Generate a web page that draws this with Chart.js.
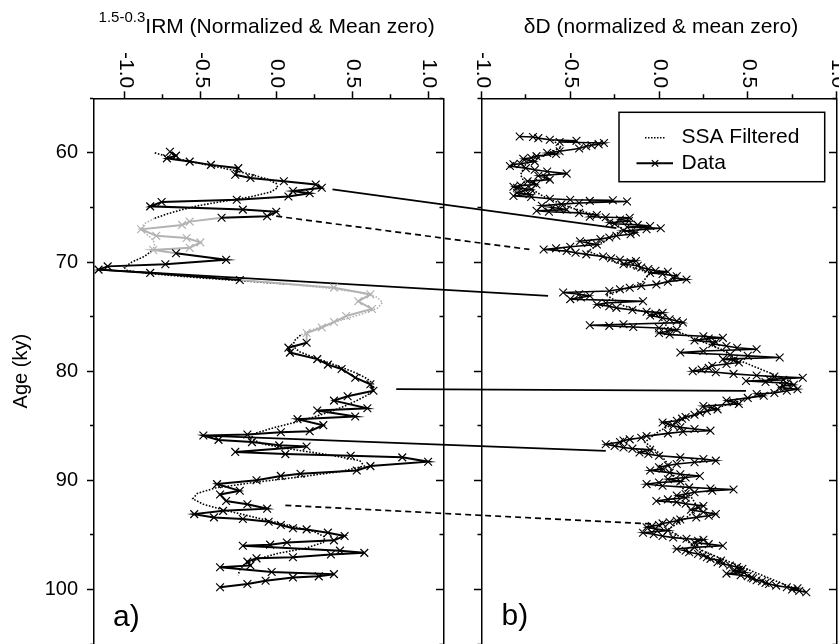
<!DOCTYPE html>
<html><head><meta charset="utf-8">
<script src="https://cdn.jsdelivr.net/npm/chart.js@4"></script>
<style>html,body{margin:0;padding:0;background:#fff;}canvas{display:block}</style>
</head><body>
<canvas id="c" width="839" height="644"></canvas>
<script>
// ---------- DATA ----------
// a) 1.5-0.3 IRM record (age in ky, normalized value)
const irmAge = [59.9,60.25,60.5,60.8,61.1,61.4,62.0,62.3,62.6,62.9,63.2,63.5,63.7,64.0,64.3,64.5,64.9,65.2,65.4,65.8,65.95,66.3,66.6,67.0,67.6,67.8,68.2,68.7,68.9,69.2,69.8,70.2,70.4,70.7,71.0,71.65,72.35,72.96,73.6,74.3,74.95,75.5,76.0,76.5,77.4,77.85,78.3,78.9,79.4,79.8,80.6,81.2,81.8,82.3,82.7,83.4,83.6,84.15,84.4,84.95,85.5,85.6,85.8,85.9,86.3,86.5,86.8,86.9,87.4,87.6,87.75,87.9,88.3,88.7,89.1,89.4,89.6,90.0,90.35,90.96,91.3,91.9,92.2,92.6,92.8,93.1,93.4,93.55,93.8,94.1,94.4,94.5,94.8,95.1,95.5,95.7,95.9,96.0,96.45,96.65,96.8,97.05,97.15,97.45,97.8,97.97,98.4,98.6,98.8,98.9,99.2,99.5,99.8];
const irmVal = [-0.70,-0.66,-0.72,-0.57,-0.43,-0.25,-0.27,-0.17,0.05,0.26,0.30,0.11,0.22,0.08,-0.26,-0.755,-0.83,-0.22,0.00,-0.06,-0.36,-0.57,-0.62,-0.89,-0.79,-0.59,-0.50,-0.57,-0.81,-0.66,-0.33,-0.73,-1.11,-1.17,-0.83,-0.24,0.38,0.62,0.54,0.63,0.46,0.38,0.30,0.20,0.20,0.08,0.09,0.27,0.34,0.43,0.52,0.62,0.64,0.47,0.38,0.60,0.27,0.52,0.14,0.31,0.22,0.03,-0.19,-0.48,-0.38,-0.16,0.02,0.20,-0.27,0.06,0.49,0.83,1.00,0.62,0.53,0.16,0.03,-0.13,-0.39,-0.24,-0.37,-0.33,-0.19,-0.06,-0.35,-0.54,-0.41,-0.22,-0.05,0.03,0.11,0.20,0.34,0.45,0.38,0.07,-0.04,-0.22,0.42,0.58,0.36,0.11,-0.13,-0.19,-0.17,-0.37,-0.03,0.38,0.28,0.11,-0.07,-0.19,-0.37];

const ssaAAge = [60.0,60.4,60.8,61.2,61.6,62.0,62.4,62.8,63.2,63.6,64.0,64.4,64.8,65.2,65.6,66.0,66.5,67.0,67.5,68.0,68.5,69.0,69.5,70.0,70.5,70.8,71.1,71.4,71.7,72.0,72.4,72.8,73.2,73.7,74.2,74.7,75.2,75.7,76.2,76.7,77.2,77.7,78.2,78.7,79.2,79.7,80.2,80.7,81.2,81.7,82.2,82.7,83.2,83.7,84.2,84.7,85.2,85.7,86.2,86.7,87.2,87.7,88.2,88.7,89.2,89.7,90.2,90.7,91.2,91.7,92.2,92.7,93.2,93.7,94.2,94.7,95.2,95.7,96.2,96.7,97.2,97.7,98.2,98.7];
const ssaAVal = [-0.80,-0.70,-0.56,-0.42,-0.28,-0.16,-0.06,0.00,0.01,-0.04,-0.16,-0.33,-0.50,-0.62,-0.72,-0.80,-0.87,-0.89,-0.85,-0.81,-0.80,-0.82,-0.87,-0.95,-1.00,-0.98,-0.80,-0.55,-0.25,0.05,0.35,0.55,0.66,0.70,0.67,0.58,0.46,0.34,0.24,0.16,0.12,0.11,0.15,0.24,0.34,0.44,0.53,0.60,0.64,0.64,0.60,0.53,0.45,0.36,0.25,0.12,-0.02,-0.14,-0.17,-0.08,0.12,0.36,0.55,0.58,0.42,0.15,-0.15,-0.40,-0.52,-0.55,-0.48,-0.35,-0.20,-0.05,0.10,0.25,0.32,0.31,0.20,0.01,-0.12,-0.21,-0.24,-0.25];

// b) deltaD record
const ddAge = [
 58.5,58.55,58.65,58.8,58.9,59.0,59.1,59.2,59.3,59.4,
 59.6,59.85,60.0,60.1,60.3,60.45,60.55,60.8,61.0,61.05,
 61.2,61.4,61.55,61.7,61.9,62.1,62.25,62.45,62.6,62.75,
 62.9,63.0,63.1,63.2,63.35,63.5,63.65,63.8,63.95,64.05,
 64.2,64.3,64.35,64.4,64.45,64.6,64.7,64.85,65.0,65.1,
 65.2,65.3,65.4,65.5,65.7,65.85,65.9,65.95,66.1,66.25,
 66.4,66.5,66.6,66.7,66.8,66.9,67.0,67.15,67.3,67.45,
 67.6,67.75,67.9,68.1,68.25,68.4,68.6,68.75,68.85,69.0,
 69.15,69.3,69.5,69.65,69.8,69.9,70.0,70.2,70.35,70.5,
 70.65,70.8,70.9,71.0,71.1,71.3,71.45,71.6,71.8,72.05,
 72.2,72.35,72.5,72.65,72.8,72.95,73.1,73.25,73.4,73.6,
 73.75,73.9,74.05,74.2,74.4,74.55,74.65,74.75,74.9,75.1,
 75.25,75.4,75.55,75.7,75.8,75.85,75.95,76.05,76.2,76.35,
 76.5,76.65,76.8,76.95,77.0,77.2,77.35,77.5,77.7,77.85,
 78.0,78.15,78.3,78.5,78.6,78.75,78.9,79.0,79.2,79.35,
 79.5,79.7,79.85,80.0,80.1,80.25,80.4,80.5,80.6,80.75,
 80.8,80.9,81.0,81.1,81.25,81.35,81.5,81.65,81.8,82.0,
 82.1,82.25,82.45,82.7,82.85,83.0,83.2,83.35,83.5,83.65,
 83.8,84.0,84.2,84.35,84.55,84.7,84.85,85.0,85.15,85.3,
 85.45,85.55,85.7,85.95,86.1,86.25,86.35,86.5,86.7,86.85,
 87.0,87.1,87.2,87.45,87.6,87.75,87.9,88.05,88.2,88.35,
 88.5,88.65,88.8,88.95,89.1,89.3,89.45,89.6,89.75,89.9,
 90.1,90.2,90.35,90.5,90.65,90.75,90.85,90.95,91.1,91.25,
 91.4,91.6,91.75,91.9,92.0,92.15,92.35,92.5,92.7,92.9,
 93.1,93.25,93.4,93.6,93.7,93.85,93.95,94.1,94.2,94.3,
 94.45,94.6,94.8,94.95,95.1,95.25,95.35,95.45,95.55,95.7,
 95.85,96.0,96.15,96.3,96.45,96.6,96.75,96.9,97.05,97.2,
 97.35,97.5,97.65,97.8,97.95,98.1,98.2,98.3,98.45,98.55,
 98.7,98.8,98.9,99.0,99.15,99.25,99.4,99.5,99.65,99.8,
 99.9,100.0,100.15,100.25];
const ddVal = [
 -0.785,-0.71,-0.68,-0.615,-0.465,-0.56,-0.31,-0.34,-0.38,-0.41,
 -0.45,-0.56,-0.63,-0.58,-0.69,-0.72,-0.765,-0.70,-0.78,-0.82,
 -0.84,-0.75,-0.70,-0.63,-0.52,-0.68,-0.64,-0.615,-0.74,-0.71,
 -0.69,-0.78,-0.82,-0.80,-0.72,-0.765,-0.80,-0.73,-0.82,-0.72,
 -0.615,-0.50,-0.26,-0.39,-0.18,-0.45,-0.55,-0.66,-0.60,-0.56,
 -0.52,-0.69,-0.62,-0.45,-0.35,-0.39,-0.30,-0.165,-0.22,-0.17,
 -0.28,-0.25,-0.12,-0.05,-0.18,0.01,-0.07,-0.20,-0.13,-0.16,
 -0.24,-0.28,-0.33,-0.445,-0.40,-0.35,-0.50,-0.58,-0.65,-0.52,
 -0.47,-0.41,-0.315,-0.27,-0.22,-0.13,-0.16,-0.20,-0.12,-0.10,
 -0.06,-0.02,0.05,-0.05,0.02,0.10,0.08,0.155,0.05,-0.015,
 -0.10,-0.165,-0.22,-0.28,-0.54,-0.45,-0.39,-0.44,-0.50,-0.09,
 -0.30,-0.35,-0.28,-0.24,-0.15,-0.07,0.02,-0.02,-0.05,0.02,
 0.06,0.10,0.135,-0.20,-0.39,-0.28,-0.145,0.00,0.10,0.05,
 0.00,0.06,0.25,0.36,0.28,0.20,0.32,0.30,0.38,0.44,
 0.55,0.25,0.12,0.40,0.50,0.68,0.36,0.42,0.45,0.38,
 0.30,0.28,0.24,0.19,0.32,0.42,0.55,0.65,0.81,0.62,
 0.70,0.49,0.60,0.72,0.76,0.70,0.68,0.78,0.72,0.65,
 0.55,0.59,0.50,0.38,0.42,0.45,0.25,0.30,0.33,0.27,
 0.23,0.20,0.15,0.13,0.10,0.02,0.05,0.08,0.12,0.20,
 0.29,0.135,0.05,-0.07,-0.10,-0.165,-0.20,-0.22,-0.30,-0.25,
 -0.20,-0.15,-0.05,-0.11,-0.06,0.00,0.12,0.25,0.32,0.20,
 0.10,0.05,0.00,0.02,-0.05,0.06,0.12,0.23,0.15,0.05,
 0.12,0.00,-0.07,0.02,0.17,0.29,0.42,0.30,0.20,0.15,
 0.10,0.15,0.05,-0.015,0.10,0.15,0.25,0.22,0.18,0.25,
 0.32,0.28,0.21,0.12,0.10,0.06,0.02,0.00,-0.04,-0.07,
 -0.02,0.05,-0.09,-0.03,0.02,0.08,0.155,0.25,0.22,0.20,
 0.28,0.36,0.20,0.10,0.15,0.17,0.22,0.25,0.27,0.29,
 0.35,0.33,0.36,0.40,0.44,0.47,0.45,0.42,0.48,0.38,
 0.46,0.50,0.52,0.53,0.55,0.58,0.60,0.62,0.66,0.72,
 0.78,0.75,0.79,0.83];

const ssaBAge = [58.8,59.5,60.2,61.0,62.0,63.0,64.0,65.0,66.0,67.0,68.0,69.0,70.0,71.0,72.0,73.0,74.0,75.0,76.0,77.0,78.0,79.0,80.0,81.0,81.6,82.5,83.5,84.5,85.5,86.5,87.5,88.5,89.5,90.5,91.5,92.5,93.5,94.5,95.5,96.5,97.5,98.5,99.5,100.2];
const ssaBVal = [-0.60,-0.55,-0.65,-0.75,-0.78,-0.75,-0.65,-0.50,-0.30,-0.20,-0.30,-0.40,-0.25,-0.05,-0.10,-0.30,-0.20,0.00,0.05,0.20,0.35,0.45,0.60,0.75,0.72,0.50,0.30,0.12,0.00,-0.08,0.00,0.05,0.08,0.12,0.18,0.22,0.15,0.05,0.15,0.25,0.40,0.55,0.70,0.82];

// tie lines between records (a -> b)
const tieAgeA = [63.35,65.8,70.7,81.65,85.9,92.3];
const tieValA = [0.37,0.0,-1.17,0.79,-0.48,0.06];
const tieAgeB = [66.9,68.85,73.1,81.8,87.3,94.0];
const tieValB = [-0.24,-0.73,-0.625,0.49,-0.30,-0.04];
const tieDashed = [false,true,false,false,false,true];

// age intervals of record a drawn in grey
const greyFrom = [66.0,72.0];
const greyTo = [69.0,77.0];

const ageTicksMajor = 10;

// ---------- STYLE ----------
const FONT = '"Liberation Sans", Arial, Helvetica, sans-serif';
const BLACK = '#000';
const GREY = '#b3b3b3';
Chart.defaults.font.family = FONT;
Chart.defaults.color = '#000';

function isGrey(age){ for(let i=0;i<greyFrom.length;i++){ if(age>=greyFrom[i]&&age<=greyTo[i]) return true; } return false; }
function isHalf(v){ return Math.abs(v*2-Math.round(v*2))<1e-6; }
function pts(ages, vals){ return ages.map((a,i)=>({x:vals[i], y:a})); }

const minorDashOut = [0,3,10,0];   // tick drawn outer->axis
const minorDashIn = [3.5,20];      // tick drawn axis->outer

function yDyn(pos){
  return { type:'linear', axis:'y', position:pos, min:55, max:105, reverse:true,
    ticks:{display:false, stepSize:5, autoSkip:false},
    grid:{drawOnChartArea:false, drawTicks:true, tickLength:7, tickWidth:1.5, tickColor:BLACK,
      tickBorderDash: c => (c.tick && c.tick.value % ageTicksMajor === 0) ? [] : minorDashIn},
    border:{display:true, color:BLACK, width:1.5},
    afterFit: s => { s.width = 0; s.paddingTop = 0; s.paddingBottom = 0; } };
}
function xTop(min,max,weightPx,order){
  return { type:'linear', axis:'x', position:'top', stack:'top', stackWeight:weightPx, weight:order, min:min, max:max,
    ticks:{display:false, stepSize:0.25, includeBounds:false, autoSkip:false, callback: v => isHalf(v) ? v.toFixed(1) : ''},
    grid:{drawOnChartArea:false, drawTicks:true, tickLength:7, tickWidth:1.5, tickColor:BLACK,
      tickBorderDash: c => (c.tick && isHalf(c.tick.value)) ? [] : minorDashOut},
    border:{display:true, color:BLACK, width:1.5},
    afterFit: s => { s.height = 7; s.paddingLeft = 0; s.paddingRight = 0; } };
}

const annot = {
  id:'annot',
  beforeDatasetsDraw(chart){
    const {ctx, scales:{xa, xb, y}} = chart;
    ctx.save();
    ctx.strokeStyle = BLACK; ctx.lineWidth = 1.7;
    for(let i=0;i<tieAgeA.length;i++){
      ctx.setLineDash(tieDashed[i] ? [6,4] : []);
      ctx.beginPath();
      ctx.moveTo(xa.getPixelForValue(tieValA[i]), y.getPixelForValue(tieAgeA[i]));
      ctx.lineTo(xb.getPixelForValue(tieValB[i]), y.getPixelForValue(tieAgeB[i]));
      ctx.stroke();
    }
    ctx.restore();
  },
  afterDraw(chart){
    const {ctx, chartArea, scales:{xa, xb}} = chart;
    ctx.save();
    ctx.fillStyle = BLACK;
    // rotated top tick labels
    ctx.font = '21px ' + FONT;
    ctx.textAlign = 'right'; ctx.textBaseline = 'middle';
    [xa, xb].forEach(s => {
      s.ticks.forEach(t => {
        if(!t.label) return;
        const px = s.getPixelForValue(t.value);
        ctx.save(); ctx.translate(px + 1, s.bottom - 10); ctx.rotate(Math.PI/2);
        ctx.fillText(t.label, 0, 0); ctx.restore();
      });
    });
    // titles
    ctx.textAlign = 'left'; ctx.textBaseline = 'alphabetic';
    const supTxt = '1.5-0.3', mainA = 'IRM (Normalized & Mean zero)';
    ctx.font = '15px ' + FONT; const wSup = ctx.measureText(supTxt).width;
    ctx.font = '21px ' + FONT; const wMain = ctx.measureText(mainA).width;
    let x0 = (xa.left + xa.right)/2 - 2 - (wSup + wMain)/2;
    ctx.font = '15px ' + FONT; ctx.fillText(supTxt, x0, 22);
    ctx.font = '21px ' + FONT; ctx.fillText(mainA, x0 + wSup, 33);
    ctx.textAlign = 'center';
    ctx.fillText('\u03B4D (normalized & mean zero)', xb.getPixelForValue(0) + 2, 33);
    // panel letters
    ctx.textAlign = 'left';
    ctx.font = '30px ' + FONT;
    ctx.fillText('a)', xa.left + 19, chartArea.bottom - 18);
    ctx.fillText('b)', xb.left + 20, chartArea.bottom - 19);
    // legend
    const lx1 = xb.right - 217.5, ly1 = chartArea.top + 14, lw = 205.7, lh = 69.4;
    ctx.fillStyle = '#fff'; ctx.fillRect(lx1, ly1, lw, lh);
    ctx.strokeStyle = BLACK; ctx.lineWidth = 1.5; ctx.strokeRect(lx1, ly1, lw, lh);
    ctx.fillStyle = BLACK;
    ctx.font = '21px ' + FONT;
    const ds = chart.data.datasets;
    ctx.fillText(ds[1].label, lx1 + 62.5, ly1 + 30.4);
    ctx.fillText(ds[0].label, lx1 + 62.5, ly1 + 56.7);
    ctx.lineWidth = 1.5; ctx.setLineDash([1.5,1.5]);
    ctx.beginPath(); ctx.moveTo(lx1 + 26, ly1 + 25.5); ctx.lineTo(lx1 + 46, ly1 + 25.5); ctx.stroke();
    ctx.setLineDash([]); ctx.lineWidth = 2;
    ctx.beginPath(); ctx.moveTo(lx1 + 17.5, ly1 + 51); ctx.lineTo(lx1 + 54, ly1 + 51); ctx.stroke();
    ctx.lineWidth = 1.2;
    const cx = lx1 + 36, cy = ly1 + 51, r = 3.2;
    ctx.beginPath(); ctx.moveTo(cx-r,cy-r); ctx.lineTo(cx+r,cy+r); ctx.moveTo(cx+r,cy-r); ctx.lineTo(cx-r,cy+r); ctx.stroke();
    ctx.restore();
  }
};

new Chart(document.getElementById('c'), {
  type:'scatter',
  data:{ datasets:[
    { label:'Data', xAxisID:'xa', yAxisID:'y', data:pts(irmAge, irmVal), showLine:true,
      borderColor:BLACK, borderWidth:2, pointStyle:'crossRot', pointRadius:5.5, pointBorderWidth:1.2,
      pointBorderColor: c => (c.parsed && isGrey(c.parsed.y)) ? GREY : BLACK,
      segment:{ borderColor: c => (isGrey(c.p0.parsed.y) || isGrey(c.p1.parsed.y)) ? GREY : BLACK } },
    { label:'SSA Filtered', xAxisID:'xa', yAxisID:'y', data:pts(ssaAAge, ssaAVal), showLine:true,
      borderColor:BLACK, borderWidth:1.6, borderDash:[1.6,1.6], pointRadius:0,
      segment:{ borderColor: c => (isGrey(c.p0.parsed.y) && isGrey(c.p1.parsed.y)) ? GREY : BLACK } },
    { label:'Data', xAxisID:'xb', yAxisID:'y', data:pts(ddAge, ddVal), showLine:true,
      borderColor:BLACK, borderWidth:1.6, pointStyle:'crossRot', pointRadius:5.5, pointBorderWidth:1.1,
      pointBorderColor:BLACK },
    { label:'SSA Filtered', xAxisID:'xb', yAxisID:'y', data:pts(ssaBAge, ssaBVal), showLine:true,
      borderColor:BLACK, borderWidth:1.6, borderDash:[1.6,1.6], pointRadius:0 }
  ]},
  options:{
    responsive:false, animation:false, devicePixelRatio:1,
    layout:{ autoPadding:false, padding:{ top:91.3, right:2.5, bottom:0, left:0 } },
    plugins:{ legend:{display:false}, title:{display:false}, tooltip:{enabled:false} },
    events:[],
    scales:{
      xa: xTop(-1.2, 1.1, 349.3, 3),
      xgap: { type:'linear', axis:'x', position:'top', stack:'top', stackWeight:38.2, weight:2, min:0, max:1,
        ticks:{display:false}, grid:{display:false, drawTicks:false}, border:{display:false},
        afterFit: s => { s.height = 7; s.paddingLeft = 0; s.paddingRight = 0; } },
      xb: xTop(-1.0, 1.0, 355, 1),
      y: { type:'linear', axis:'y', position:'left', min:55, max:105, reverse:true,
        ticks:{ stepSize:5, autoSkip:false, padding:9, color:BLACK, font:{size:20},
          callback: v => (v % ageTicksMajor === 0) ? String(v) : '' },
        grid:{ drawOnChartArea:false, drawTicks:true, tickLength:7, tickWidth:1.5, tickColor:BLACK,
          tickBorderDash: c => (c.tick && c.tick.value % ageTicksMajor === 0) ? [] : minorDashOut },
        border:{ display:true, color:BLACK, width:1.5 },
        title:{ display:true, text:'Age (ky)', color:BLACK, font:{size:20}, padding:{top:9, bottom:0} },
        afterFit: s => { s.width = 94; s.paddingTop = 0; s.paddingBottom = 0; } },
      yaR: yDyn({xa: 1.1}),
      ybL: yDyn({xb: -1.0}),
      ybR: yDyn({xb: 1.0})
    }
  },
  plugins:[annot]
});
</script>
</body></html>
